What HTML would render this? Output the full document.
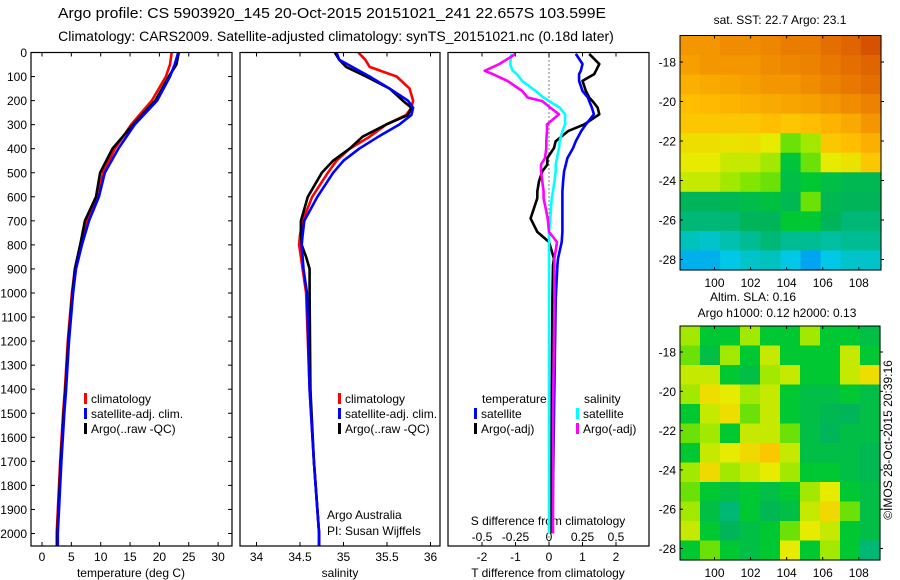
<!DOCTYPE html>
<html><head><meta charset="utf-8"><style>
html,body{margin:0;padding:0;background:#fff}
svg{display:block;font-family:"Liberation Sans",sans-serif}
text{fill:#000}
</style></head><body>
<svg id="fig" width="900" height="580" viewBox="0 0 900 580">
<text x="332" y="18" font-size="15" text-anchor="middle" textLength="548" lengthAdjust="spacingAndGlyphs">Argo profile: CS 5903920_145 20-Oct-2015 20151021_241 22.657S 103.599E</text>
<text x="336" y="41" font-size="14" text-anchor="middle">Climatology: CARS2009. Satellite-adjusted climatology: synTS_20151021.nc (0.18d later)</text>
<g id="p1"></g>
<g id="p2"></g>
<g id="p3"></g>
<g id="m1"></g>
<g id="m2"></g>
<text transform="translate(892,440) rotate(-90)" font-size="12" text-anchor="middle">©IMOS 28-Oct-2015 20:39:16</text>
</svg>
<script>
// ---------- data ----------
const depthTicks=[0,100,200,300,400,500,600,700,800,900,1000,1100,1200,1300,1400,1500,1600,1700,1800,1900,2000];
const tempTicks=[0,5,10,15,20,25,30];
const salTicks=[34,34.5,35,35.5,36];
const tdiffTicks=[-2,-1,0,1,2];
const sdiffTicks=[-0.5,-0.25,0,0.25,0.5];
const tDepth=[0,50,100,200,300,400,500,600,700,800,900,1000,1200,1400,1500,1700,2000,2050];
const tClim=[22.1,21.8,21.1,18.7,15.2,12.4,10.4,9.5,7.7,6.5,5.6,5.1,4.4,3.9,3.6,3.1,2.5,2.5];
const tSat=[23.2,22.6,21.8,19.6,15.8,13.0,10.7,9.7,8.0,6.8,5.8,5.3,4.6,4.1,3.8,3.3,2.7,2.7];
const tArgo=[23.3,22.9,21.6,19.3,15.5,12.0,9.9,9.2,7.3,6.5,5.6,5.2,4.5,4.0,3.7,3.2,2.6,2.6];
const sDepth=[0,30,60,100,150,200,230,260,300,350,400,450,500,600,700,760,800,850,900,1000,1400,1700,2000,2050];
const sClim=[35.17,35.25,35.3,35.61,35.76,35.8,35.78,35.72,35.49,35.3,35.07,34.92,34.82,34.64,34.53,34.5,34.49,34.51,34.53,34.57,34.61,34.66,34.72,34.72];
const sSat=[34.92,34.95,35.1,35.3,35.53,35.74,35.8,35.78,35.64,35.4,35.18,35.0,34.88,34.7,34.55,34.53,34.52,34.53,34.54,34.58,34.61,34.66,34.72,34.72];
const sArgo=[34.9,34.95,35.03,35.26,35.53,35.68,35.78,35.74,35.49,35.22,35.07,34.88,34.75,34.59,34.51,34.51,34.52,34.57,34.61,34.61,34.62,34.66,34.72,34.72];
const dDepth=[6,48,76,90,118,160,187,202,229,257,299,327,369,397,439,466,494,536,578,606,690,746,788,857,885,1025,1500,2000];
const dTSat=[0.8,1.0,0.95,0.9,0.9,1.0,1.16,1.2,1.28,1.34,1.1,0.96,0.8,0.72,0.55,0.5,0.45,0.42,0.4,0.4,0.4,0.4,0.38,0.27,0.25,0.2,0.15,0.1];
const dTArgo=[1.2,1.5,1.4,1.35,1.0,1.1,1.2,1.3,1.45,1.5,1.05,0.57,0.2,0.15,-0.05,-0.05,-0.2,-0.3,-0.35,-0.35,-0.55,-0.35,0,0.15,0.12,0.1,0.08,0.05];
const dSSat=[-0.28,-0.29,-0.27,-0.24,-0.2,-0.1,-0.04,0,0.08,0.12,0.12,0.1,0.08,0.075,0.06,0.05,0.05,0.04,0.03,0.02,0.01,0,0,0,0,0,0,0];
const dSArgo=[-0.25,-0.37,-0.48,-0.42,-0.31,-0.2,-0.16,-0.05,0.01,0.075,-0.015,-0.015,-0.02,-0.02,-0.03,-0.06,-0.06,-0.05,-0.04,-0.04,-0.01,0,0.06,0.04,0.04,0.04,0.03,0.03];
const sstVals=[
[.8,.8,.82,.82,.83,.85,.85,.88,.9,.93],
[.78,.8,.8,.8,.82,.83,.84,.86,.88,.9],
[.75,.76,.77,.78,.8,.8,.82,.84,.86,.88],
[.72,.73,.74,.75,.76,.77,.78,.8,.82,.84],
[.7,.7,.7,.7,.72,.7,.72,.74,.76,.8],
[.65,.65,.64,.65,.62,.55,.58,.7,.72,.75],
[.62,.62,.6,.6,.58,.48,.55,.62,.64,.7],
[.6,.6,.58,.56,.55,.45,.5,.45,.42,.42],
[.4,.4,.42,.44,.46,.42,.55,.42,.4,.4],
[.38,.38,.38,.4,.4,.5,.5,.4,.38,.38],
[.33,.32,.34,.36,.38,.36,.36,.35,.36,.36],
[.26,.26,.3,.32,.33,.3,.24,.3,.32,.32]];
const slaVals=[
[.58,.5,.5,.58,.5,.5,.58,.5,.5,.45],
[.55,.45,.58,.5,.6,.5,.5,.5,.6,.5],
[.6,.6,.5,.45,.58,.6,.5,.5,.6,.65],
[.58,.65,.62,.58,.6,.5,.45,.45,.5,.45],
[.5,.6,.65,.55,.6,.5,.45,.42,.4,.45],
[.55,.58,.5,.6,.6,.55,.45,.4,.45,.45],
[.5,.6,.62,.66,.7,.6,.45,.45,.45,.42],
[.58,.66,.58,.6,.62,.58,.5,.5,.45,.42],
[.55,.5,.45,.5,.45,.5,.58,.62,.5,.45],
[.58,.45,.38,.5,.42,.45,.6,.66,.55,.45],
[.6,.5,.4,.45,.5,.55,.62,.6,.5,.45],
[.5,.55,.5,.45,.5,.62,.5,.58,.5,.38]];
const lonTicks=[100,102,104,106,108];
const latTicks=[-18,-20,-22,-24,-26,-28];

// ---------- helpers ----------
const NS='http://www.w3.org/2000/svg';
function mk(parent,tag,attrs){const e=document.createElementNS(NS,tag);for(const k in attrs)e.setAttribute(k,attrs[k]);parent.appendChild(e);return e;}
const Y0=52.5,KY=0.2405;
const yD=d=>Y0+d*KY;
const YB=546;
const xT=v=>42+v*5.87;
const xS=v=>300+(v-34.5)*87;
const xDT=v=>549+v*33.5;
const xDS=v=>549+v*134;

function frame(g,x0,x1,name){
  const r=mk(g,'rect',{x:x0,y:Y0,width:x1-x0,height:YB-Y0,fill:'none',stroke:'#000','stroke-width':1.2});
  
  
}
function xticks(g,ticks,fx,labels,ly){
  ticks.forEach((t,i)=>{
    const x=fx(t);
    mk(g,'line',{x1:x,x2:x,y1:Y0,y2:Y0+4,stroke:'#000'});
    mk(g,'line',{x1:x,x2:x,y1:YB,y2:YB-4,stroke:'#000'});
    const tx=mk(g,'text',{x:x,y:ly,'font-size':12,'text-anchor':'middle'});
    tx.textContent=labels?labels[i]:String(t);
    
    
  });
}
function line(g,xs,ds,fx,color,name){
  const pts=xs.map((v,i)=>fx(v).toFixed(1)+','+yD(ds[i]).toFixed(1)).join(' ');
  const p=mk(g,'polyline',{points:pts,fill:'none',stroke:color,'stroke-width':2.6,'stroke-linejoin':'round'});
  
  
}
function clip(g,id,x0,x1){
  const cp=mk(document.getElementById('fig'),'clipPath',{id:id});
  mk(cp,'rect',{x:x0,y:Y0,width:x1-x0,height:YB-Y0});
  const gg=mk(g,'g',{'clip-path':'url(#'+id+')'});
  return gg;
}
function legendEntry(g,x,y,color,label){
  const m=mk(g,'rect',{x:x,y:y-10,width:3,height:11,fill:color});
  
  
  const t=mk(g,'text',{x:x+7,y:y,'font-size':12});
  t.textContent=label;
  
  
}
function txt(g,x,y,s,name,anchor){
  const t=mk(g,'text',{x:x,y:y,'font-size':12,'text-anchor':anchor||'start'});
  t.textContent=s;
  
  
}

// ---------- panel 1 ----------
const p1=document.getElementById('p1');
depthTicks.forEach(d=>{
  const y=yD(d);
  mk(p1,'line',{x1:31,x2:35,y1:y,y2:y,stroke:'#000'});
  mk(p1,'line',{x1:232,x2:228,y1:y,y2:y,stroke:'#000'});
  const t=mk(p1,'text',{x:27,y:y+4.5,'font-size':12,'text-anchor':'end'});
  t.textContent=String(d);
  
  
});
xticks(p1,tempTicks,xT,null,561);
txt(p1,131,577,'temperature (deg C)','x-axis-title','middle');
const c1=clip(p1,'c1',31,232);
line(c1,tClim,tDepth,xT,'#f00','temp-climatology-line');
line(c1,tArgo,tDepth,xT,'#000','temp-argo-line');
line(c1,tSat,tDepth,xT,'#00f','temp-satellite-line');
frame(p1,31,232,'temperature-axes');
legendEntry(p1,84,403,'#f00','climatology');
legendEntry(p1,84,418,'#00f','satellite-adj. clim.');
legendEntry(p1,84,433,'#000','Argo(..raw -QC)');

// ---------- panel 2 ----------
const p2=document.getElementById('p2');
xticks(p2,salTicks,xS,['34','34.5','35','35.5','36'],561);
txt(p2,340,577,'salinity','x-axis-title','middle');
const c2=clip(p2,'c2',240,440);
line(c2,sClim,sDepth,xS,'#f00','sal-climatology-line');
line(c2,sArgo,sDepth,xS,'#000','sal-argo-line');
line(c2,sSat,sDepth,xS,'#00f','sal-satellite-line');
frame(p2,240,440,'salinity-axes');
legendEntry(p2,338,403,'#f00','climatology');
legendEntry(p2,338,418,'#00f','satellite-adj. clim.');
legendEntry(p2,338,433,'#000','Argo(..raw -QC)');
txt(p2,327,519,'Argo Australia','credit-text');
txt(p2,327,535,'PI: Susan Wijffels','pi-text');

// ---------- panel 3 ----------
const p3=document.getElementById('p3');
xticks(p3,tdiffTicks,xDT,['-2','-1','0','1','2'],561);
txt(p3,548,577,'T difference from climatology','x-axis-title','middle');
txt(p3,548,525,'S difference from climatology','s-axis-title','middle');
sdiffTicks.forEach(s=>{txt(p3,xDS(s),541,String(s),'s-tick-label','middle');});
const c3=clip(p3,'c3',448,649);
mk(c3,'line',{x1:549,x2:549,y1:Y0,y2:YB,stroke:'#000','stroke-dasharray':'1,3'});
line(c3,dTArgo,dDepth,xDT,'#000','tdiff-argo-line');
line(c3,dTSat,dDepth,xDT,'#00f','tdiff-satellite-line');
line(c3,dSSat,dDepth,xDS,'#0ff','sdiff-satellite-line');
line(c3,dSArgo,dDepth,xDS,'#f0f','sdiff-argo-line');
frame(p3,448,649,'difference-axes');
txt(p3,482,403,'temperature','legend-title');
txt(p3,584,403,'salinity','legend-title');
legendEntry(p3,474,418,'#00f','satellite');
legendEntry(p3,474,433,'#000','Argo(-adj)');
legendEntry(p3,576,418,'#0ff','satellite');
legendEntry(p3,576,433,'#f0f','Argo(-adj)');

// ---------- maps ----------
const stops=[[0,[0,40,200]],[.15,[0,110,255]],[.3,[0,200,230]],[.4,[0,180,90]],[.5,[0,200,50]],[.56,[130,230,0]],[.62,[230,235,0]],[.72,[255,190,0]],[.82,[240,140,0]],[.92,[220,90,0]],[1,[180,30,0]]];
function cmap(v){
  for(let i=1;i<stops.length;i++){if(v<=stops[i][0]){const a=stops[i-1],b=stops[i],t=(v-a[0])/(b[0]-a[0]);return 'rgb('+a[1].map((c,j)=>Math.round(c+(b[1][j]-c)*t)).join(',')+')';}}
  return 'rgb(180,30,0)';
}
function drawMap(id,vals,x0,y0,w,h,lat18,lat28){
  const g=document.getElementById(id);
  const rows=vals.length,cols=vals[0].length,cw=w/cols,ch=h/rows;
  vals.forEach((row,r)=>row.forEach((v,c)=>{
    const e=mk(g,'rect',{x:(x0+c*cw).toFixed(2),y:(y0+r*ch).toFixed(2),width:(cw+0.6).toFixed(2),height:(ch+0.6).toFixed(2),fill:cmap(v)});
    
    
  }));
  const f=mk(g,'rect',{x:x0,y:y0,width:w,height:h,fill:'none',stroke:'#000'});
  
  
  const xl=v=>714.5+(v-100)*18.04;
  lonTicks.forEach(l=>{
    const x=xl(l);
    mk(g,'line',{x1:x,x2:x,y1:y0,y2:y0+3,stroke:'#000'});
    mk(g,'line',{x1:x,x2:x,y1:y0+h,y2:y0+h-3,stroke:'#000'});
    txt(g,x,y0+h+17,String(l),'lon-tick-label','middle');
  });
  const yl=v=>lat18+(v+18)*(lat28-lat18)/-10;
  latTicks.forEach(l=>{
    const y=yl(l);
    mk(g,'line',{x1:x0,x2:x0+3,y1:y,y2:y,stroke:'#000'});
    mk(g,'line',{x1:x0+w,x2:x0+w+3,y1:y,y2:y,stroke:'#000'});
    txt(g,x0-4,y+4.5,String(l),'lat-tick-label','end');
  });
}
drawMap('m1',sstVals,680,35.5,201,234.5,62,259.5);
drawMap('m2',slaVals,680,326,200,234,352,548.5);
const m1=document.getElementById('m1'),m2=document.getElementById('m2');
txt(m1,780,24,'sat. SST: 22.7 Argo: 23.1','map-title','middle');
txt(m2,753,301,'Altim. SLA: 0.16','map-title','middle');
txt(m2,777,317,'Argo h1000: 0.12 h2000: 0.13','map-subtitle','middle');
</script>
</body></html>
